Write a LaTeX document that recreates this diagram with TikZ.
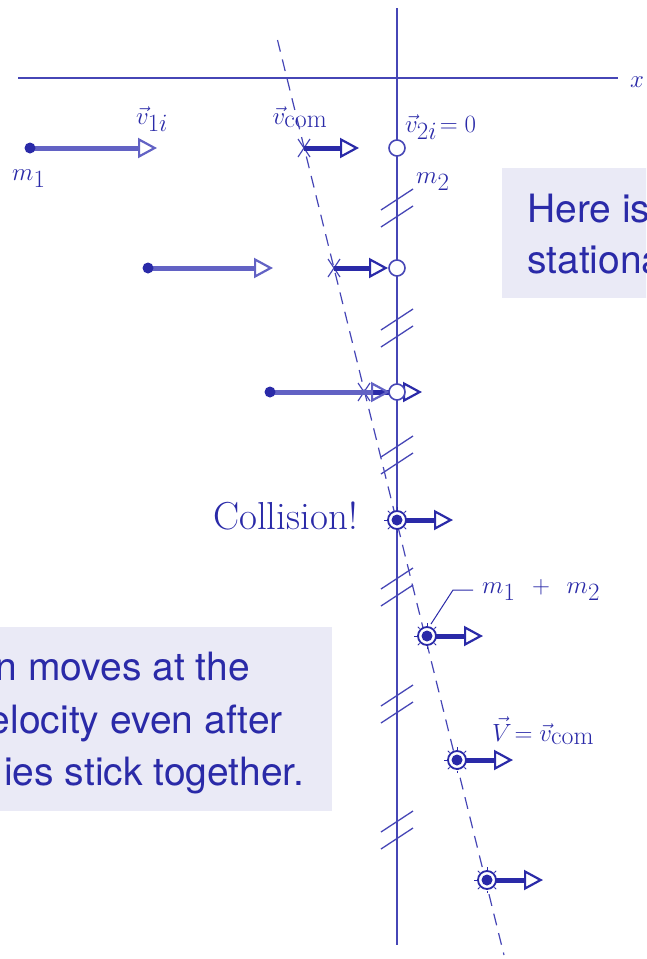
\documentclass[tikz,border=0pt]{standalone}
\usepackage{fontspec}
\newfontfamily\herosfont{TeX Gyre Heros}
\usetikzlibrary{arrows.meta}
\definecolor{dblue}{HTML}{2A2AA8}
\definecolor{lblue}{HTML}{4646B6}
\definecolor{mblue}{HTML}{6262C4}
\definecolor{boxbg}{HTML}{EAEAF6}
\begin{document}
\begin{tikzpicture}[x=1pt,y=-1pt,
  axisline/.style={lblue,line width=1.4pt},
  comline/.style={lblue,line width=1.2pt,dash pattern=on 12pt off 8pt},
  breakmark/.style={lblue,line width=1.3pt},
  openhead/.style={-{Triangle[open,length=19pt,width=20pt,line width=2.2pt]}},
  monearrow/.style={openhead,mblue,line width=5pt},
  comarrow/.style={openhead,dblue,line width=5pt},
  bodyarrow/.style={openhead,dblue,line width=5pt},
  crossmark/.style={lblue,line width=1.2pt},
  mdot/.style={fill=dblue},
  mtwo/.style={draw=lblue,fill=white,line width=1.6pt},
  mathlabel/.style={text=dblue,inner sep=0pt,font=\fontsize{37}{44}\selectfont},
  sanstext/.style={text=dblue,inner sep=0pt,font=\herosfont\fontsize{39}{53}\selectfont},
  leader/.style={dblue,line width=1pt}]
\useasboundingbox (0,0) rectangle (646,959);
\begin{scope}
\clip (0,0) rectangle (646,959);
% text boxes
\fill[boxbg] (502,168) rectangle (660,298);
\fill[boxbg] (-10,627) rectangle (332,811);
\node[sanstext,anchor=base west] (boxAone) at (527,222) {Here is};
\node[sanstext,anchor=base west] (boxAtwo) at (527,273) {stationa};
\node[sanstext,anchor=base east] (boxBone) at (250,680) {n moves at the};
\node[sanstext,anchor=base east] (boxBtwo) at (283,733) {elocity even after};
\node[sanstext,anchor=base west] (boxBthree) at (4,785) {ies stick together.};
% axes
\coordinate (xl) at (18,78);
\coordinate (xr) at (618,78);
\draw[axisline] (xl) -- (xr);
\node[mathlabel,anchor=base] (xlab) at (637,87) {$x$};
\coordinate (vt) at (397,8);
\coordinate (vb) at (397,945);
\draw[axisline] (vt) -- (vb);
% break marks
\foreach \yc in {208,328,455,587,704,830}{
  \draw[breakmark] (381,\yc+2) -- (413,\yc-19);
  \draw[breakmark] (381,\yc+19) -- (413,\yc-2);
}
% centre of mass line
\coordinate (dt) at (277.5,40);
\coordinate (db) at (504,955);
\draw[comline] (dt) -- (db);
% rows before collision
\foreach \mx/\mt/\cx/\cy/\ct in {30/157/304/148/359, 148/273/334/268/388, 270/390/364/392/422}{
  \coordinate (c) at (\cx,\cy);
  \draw[crossmark] (\cx-6,\cy-9) -- (\cx+6,\cy+9);
  \draw[crossmark] (\cx-6,\cy+9) -- (\cx+6,\cy-9);
  \draw[comarrow] (c) -- (\ct,\cy);
  \coordinate (m) at (\mx,\cy);
  \draw[monearrow] (m) -- (\mt,\cy);
  \fill[mdot] (m) circle[radius=5.5pt];
  \draw[mtwo] (397,\cy) circle[radius=8pt];
}
% labels top
\node[mathlabel,anchor=base] (vone) at (152,124) {$\vec{v}_{1i}$};
\node[mathlabel,anchor=base] (vcom) at (300,124) {$\vec{v}_{\mathrm{com}}$};
\node[mathlabel,anchor=base west] (vtwo) at (405,132) {$\vec{v}_{2i}\!= 0$};
\node[mathlabel,anchor=base west] (mone) at (12,180) {$m_1$};
\node[mathlabel,anchor=base west] (mtwolab) at (416,183) {$m_2$};
% combined body rows
\foreach \bx/\by in {397/520, 427/636, 457/760, 487/880}{
  \coordinate (b) at (\bx,\by);
  \draw[bodyarrow] (b) -- (\bx+56,\by);
  \foreach \a in {0,45,...,315}{
    \draw[dblue,line width=0.8pt] (b) ++(\a:10.5pt) -- ++(\a:2.5pt);
  }
  \draw[dblue,fill=white,line width=1.8pt] (b) circle[radius=9pt];
  \fill[dblue] (b) circle[radius=5.5pt];
}
\node[text=dblue,inner sep=0pt,font=\fontsize{39}{46}\selectfont,anchor=base east] (coll) at (358,529) {Collision!};
\coordinate (la) at (431,624);
\coordinate (lb) at (453,590);
\coordinate (lc) at (473,590);
\draw[leader] (la) -- (lb) -- (lc);
\node[mathlabel,anchor=base west] (msum) at (482,593) {$m_1\ +\ m_2$};
\node[mathlabel,anchor=base west] (vfinal) at (492,741) {$\vec{V}\!=\vec{v}_{\mathrm{com}}$};
\end{scope}
\end{tikzpicture}
\end{document}
